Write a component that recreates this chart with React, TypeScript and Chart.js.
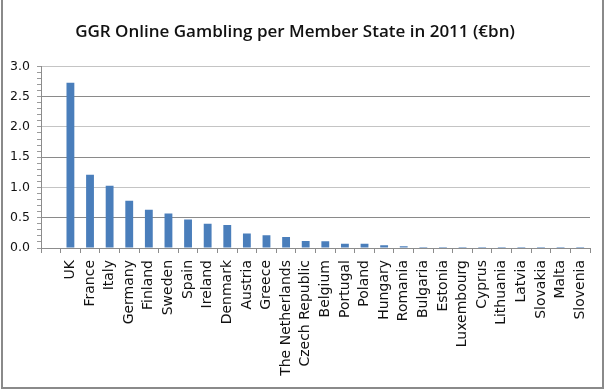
import React, { useEffect, useRef } from "react";
import { Chart, registerables } from "chart.js";

Chart.register(...registerables);

const TITLE = "GGR Online Gambling per Member State in 2011 (€bn)";

// first category is an empty slot in the source chart
const countries = [
  "", "UK", "France", "Italy", "Germany", "Finland", "Sweden", "Spain", "Ireland",
  "Denmark", "Austria", "Greece", "The Netherlands", "Czech Republic", "Belgium",
  "Portugal", "Poland", "Hungary", "Romania", "Bulgaria", "Estonia", "Luxembourg",
  "Cyprus", "Lithuania", "Latvia", "Slovakia", "Malta", "Slovenia",
];

const ggrValues = [
  null, 2.73, 1.21, 1.03, 0.78, 0.63, 0.57, 0.47, 0.40, 0.38, 0.24, 0.21, 0.18, 0.115,
  0.11, 0.07, 0.07, 0.045, 0.03, 0.015, 0.015, 0.015, 0.015, 0.015, 0.015, 0.015,
  0.015, 0.015,
];

const yMin = 0;
const yMax = 3;
const yMinorStep = 0.1;

const isMajor = (v: number) => Math.abs(v * 2 - Math.round(v * 2)) < 1e-6;

export default function App() {
  const ref = useRef<HTMLCanvasElement | null>(null);

  useEffect(() => {
    document.body.style.margin = "0";
    const ctx = ref.current!;
    const chart = new Chart(ctx, {
      type: "bar",
      data: {
        labels: countries,
        datasets: [
          {
            data: ggrValues,
            backgroundColor: "#4a7ebb",
            borderWidth: 0,
            categoryPercentage: 1,
            barPercentage: 0.4,
          },
        ],
      },
      options: {
        responsive: false,
        animation: false,
        devicePixelRatio: 1,
        layout: { padding: { left: 0, right: 18, top: 0, bottom: 0 } },
        plugins: {
          legend: { display: false },
          tooltip: { enabled: false },
          title: {
            display: true,
            text: TITLE,
            color: "#111",
            font: { family: "Open Sans", size: 17, weight: "600" },
            padding: { top: 22, bottom: 24 },
          },
        },
        scales: {
          x: {
            offset: true,
            grid: {
              offset: true,
              drawOnChartArea: false,
              drawTicks: true,
              tickLength: 5,
              color: "#8c8c8c",
            },
            border: { color: "#8c8c8c" },
            ticks: {
              autoSkip: false,
              minRotation: 90,
              maxRotation: 90,
              padding: 7,
              color: "#111",
              font: { family: "DejaVu Sans", size: 14 },
            },
            afterFit: (s: any) => {
              s.height = 144;
            },
          },
          y: {
            min: yMin,
            max: yMax,
            grid: {
              color: (c: any) => {
                const v = c.tick ? c.tick.value : 0;
                if (!isMajor(v) || v === 0) return "rgba(0,0,0,0)";
                return Math.round(v * 2) % 2 === 1 ? "#8a8a8a" : "#c4c4c4";
              },
              tickColor: "#9a9a9a",
              tickLength: 4,
              lineWidth: 1,
            },
            border: { color: "#8c8c8c" },
            ticks: {
              stepSize: yMinorStep,
              autoSkip: false,
              padding: 7,
              color: "#111",
              font: { family: "DejaVu Sans", size: 12.5 },
              callback: (v: any) => (isMajor(Number(v)) ? Number(v).toFixed(1) : ""),
            },
            afterFit: (s: any) => {
              s.width = 41;
            },
          },
        },
      },
    } as any);
    return () => chart.destroy();
  }, []);

  return (
    <div
      style={{
        position: "absolute",
        left: 0,
        top: 0,
        width: 608,
        height: 392,
        background: "#fff",
      }}
    >
      <div
        style={{
          position: "absolute",
          left: 1,
          top: -2,
          width: 603,
          height: 391,
          border: "2px solid #8a8a8a",
          boxSizing: "border-box",
        }}
      />
      <canvas ref={ref} width={608} height={392} style={{ position: "absolute", left: 0, top: 0 }} />
    </div>
  );
}
